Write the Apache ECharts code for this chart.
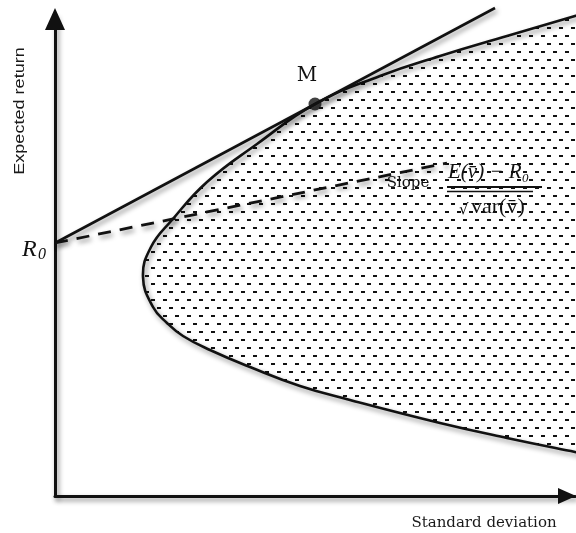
<!DOCTYPE html>
<html><head><meta charset="utf-8">
<script src="https://cdn.jsdelivr.net/npm/echarts@6/dist/echarts.min.js"></script>
<style>html,body{margin:0;padding:0;background:#fff}#c{width:576px;height:533px}</style>
</head><body><div id="c"></div>
<script>
// Efficient frontier (upper branch read from right to the vertex, lower branch from vertex to right)
const upperSigma  = [60, 52.0, 45.2, 38.5, 32.5, 26.0, 20.2, 15.2, 11.7, 9.6];
const upperReturn = [50.3, 48.0, 46.0, 44.0, 42.0, 39.2, 35.2, 31.4, 27.6, 24.9];
const vertexSigma = [8.8];
const vertexReturn = [21.9];
const lowerSigma  = [9.8, 11.2, 12.8, 15.5, 19.5, 24.5, 29.5, 38.5, 45.2, 52.0, 60.0];
const lowerReturn = [18.9, 17.3, 16.0, 14.6, 12.9, 11.0, 9.6, 7.3, 5.8, 4.4, 2.8];
// Riskless rate, market portfolio, tangent (capital market line) end, dashed line end
const riskFree = [0, 25.3];
const marketPortfolio = [26.0, 39.2];
const tangentEnd = [44.0, 48.8];
const dashedEnd = [39.2, 33.3];
// Axis ranges
const sigmaRange = [0, 52];
const returnRange = [0, 48];

const loopSigma = upperSigma.concat(vertexSigma, lowerSigma);
const loopReturn = upperReturn.concat(vertexReturn, lowerReturn);

// dotted fill pattern
const pc = document.createElement('canvas');
pc.width = 12; pc.height = 16;
const g = pc.getContext('2d');
g.fillStyle = '#111';
g.fillRect(1, 3, 4, 2);
g.fillRect(7, 11, 4, 2);
const pattern = { image: pc, repeat: 'repeat' };

const shadow = { shadowColor: 'rgba(0,0,0,0.45)', shadowBlur: 5, shadowOffsetX: 2, shadowOffsetY: 3 };

const chart = echarts.init(document.getElementById('c'), null, { renderer: 'canvas' });
chart.setOption({
  animation: false,
  backgroundColor: '#fff',
  grid: { left: 55, top: 16, width: 520, height: 480, containLabel: false, outerBoundsMode: 'none' },
  xAxis: {
    type: 'value', min: sigmaRange[0], max: sigmaRange[1],
    axisLine: { show: true, onZero: false, symbol: ['none', 'triangle'], symbolSize: [16, 18], symbolOffset: [0, -8],
      lineStyle: Object.assign({ color: '#111', width: 3 }, shadow) },
    axisTick: { show: false }, axisLabel: { show: false }, splitLine: { show: false }
  },
  yAxis: {
    type: 'value', min: returnRange[0], max: returnRange[1],
    axisLine: { show: true, onZero: false, symbol: ['none', 'triangle'], symbolSize: [20, 22], symbolOffset: [0, -3],
      lineStyle: Object.assign({ color: '#111', width: 3 }, shadow) },
    axisTick: { show: false }, axisLabel: { show: false }, splitLine: { show: false }
  },
  series: [
    {
      type: 'custom', z: 1, clip: false,
      data: [[0, 0]],
      renderItem: function (params, api) {
        const pts = loopSigma.map(function (s, i) { return api.coord([s, loopReturn[i]]); });
        return {
          type: 'group',
          children: [
            { type: 'polygon', shape: { points: pts, smooth: 0.45 }, style: { fill: pattern, stroke: null } },
            { type: 'polyline', shape: { points: pts, smooth: 0.45 },
              style: Object.assign({ fill: null, stroke: '#111', lineWidth: 2.6 }, shadow) }
          ]
        };
      }
    },
    {
      type: 'line', z: 3, clip: false, symbol: 'none',
      data: [riskFree, tangentEnd],
      lineStyle: Object.assign({ color: '#111', width: 2.6 }, shadow)
    },
    {
      type: 'line', z: 3, clip: false, symbol: 'none',
      data: [riskFree, dashedEnd],
      lineStyle: Object.assign({ color: '#111', width: 2.8, type: [13, 9] }, shadow)
    },
    {
      type: 'scatter', z: 4, symbol: 'circle', symbolSize: 13,
      data: [marketPortfolio],
      itemStyle: { color: '#111' }
    }
  ],
  graphic: [
    { type: 'text', x: 20, y: 111, rotation: Math.PI / 2, scaleX: 1.29, z: 10,
      style: { text: 'Expected return', font: '14px "Liberation Sans", Arial, sans-serif', fill: '#1a1a1a',
        align: 'center', verticalAlign: 'middle', textAlign: 'center', textVerticalAlign: 'middle' } },
    { type: 'text', x: 484, y: 523, z: 10,
      style: { text: 'Standard deviation', font: '15px "DejaVu Serif", serif', fill: '#1a1a1a',
        align: 'center', verticalAlign: 'middle', textAlign: 'center', textVerticalAlign: 'middle' } },
    { type: 'text', x: 307, y: 76, z: 10,
      style: { text: 'M', font: '20px "DejaVu Serif", serif', fill: '#111',
        align: 'center', verticalAlign: 'middle', textAlign: 'center', textVerticalAlign: 'middle' } },
    { type: 'text', x: 22, y: 250, z: 10,
      style: { text: 'R', font: 'italic 24px "Liberation Serif", serif', fill: '#111',
        align: 'left', verticalAlign: 'middle', textAlign: 'left', textVerticalAlign: 'middle' } },
    { type: 'text', x: 38, y: 255, z: 10,
      style: { text: '0', font: 'italic 16px "Liberation Serif", serif', fill: '#111',
        align: 'left', verticalAlign: 'middle', textAlign: 'left', textVerticalAlign: 'middle' } },
    { type: 'text', x: 408, y: 183, z: 10,
      style: { text: 'Slope', font: '15px "DejaVu Serif", serif', fill: '#111',
        align: 'center', verticalAlign: 'middle', textAlign: 'center', textVerticalAlign: 'middle' } },
    { type: 'text', x: 448, y: 172, z: 10,
      style: { text: 'E(v\u0304) \u2212 R', font: 'italic 21px "Liberation Serif", serif', fill: '#111',
        align: 'left', verticalAlign: 'middle', textAlign: 'left', textVerticalAlign: 'middle' } },
    { type: 'text', x: 522, y: 179, z: 10,
      style: { text: '0', font: 'italic 13px "Liberation Serif", serif', fill: '#111',
        align: 'left', verticalAlign: 'middle', textAlign: 'left', textVerticalAlign: 'middle' } },
    { type: 'line', z: 10, shape: { x1: 447, y1: 187, x2: 542, y2: 187 }, style: { stroke: '#111', lineWidth: 1.8 } },
    { type: 'line', z: 10, shape: { x1: 447, y1: 191.5, x2: 533, y2: 191.5 }, style: { stroke: '#111', lineWidth: 1.6 } },
    { type: 'text', x: 459, y: 210, z: 10,
      style: { text: '\u221A', font: '15px "DejaVu Serif", serif', fill: '#111',
        align: 'left', verticalAlign: 'middle', textAlign: 'left', textVerticalAlign: 'middle' } },
    { type: 'text', x: 471, y: 207, z: 10,
      style: { text: 'var(v\u0304)', font: '22px "Liberation Serif", serif', fill: '#111',
        align: 'left', verticalAlign: 'middle', textAlign: 'left', textVerticalAlign: 'middle' } }
  ]
});
</script>
</body></html>
